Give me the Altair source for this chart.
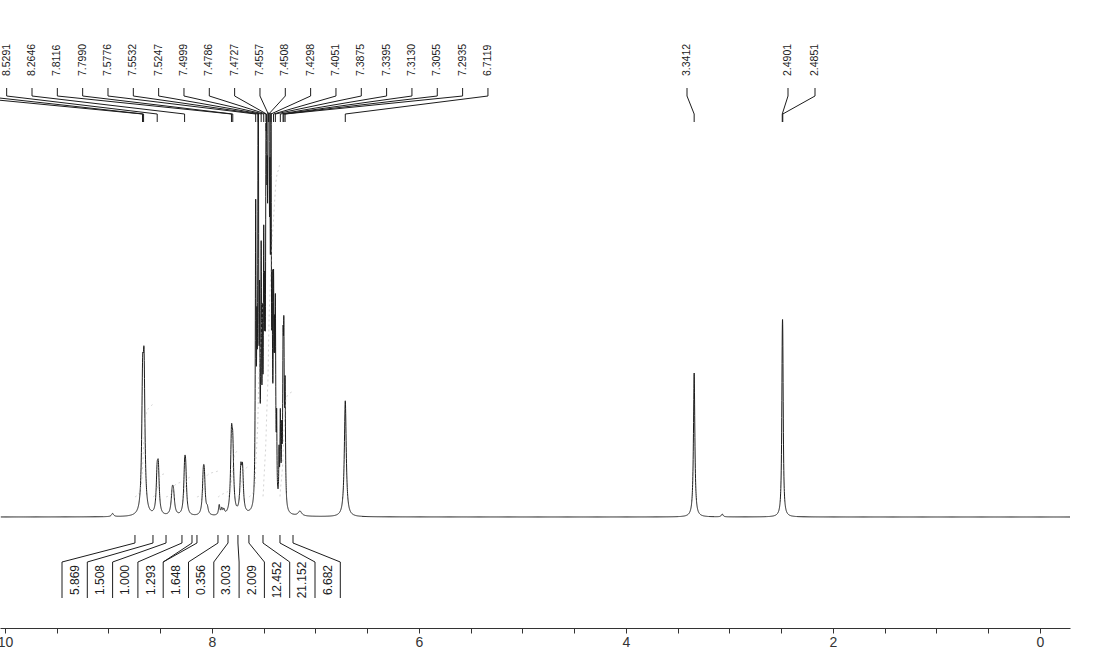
import altair as alt
import numpy as np
import pandas as pd

# ---------------- spectrum: peak table (ppm, height, half-width) ----------------
peak_ppm = [8.960, 8.670, 8.656, 8.530, 8.518, 8.384, 8.372, 8.264, 8.254,
            8.084, 8.074, 8.045, 7.930, 7.905, 7.885, 7.8116, 7.7990, 7.7211,
            7.7050,
            7.5776, 7.5660, 7.5532, 7.5400, 7.5247, 7.5120, 7.4999, 7.4900,
            7.4786, 7.4727, 7.4660, 7.4557, 7.4508, 7.4400, 7.4298, 7.4180,
            7.4051, 7.3960, 7.3875, 7.3750, 7.3520, 7.3395, 7.3260, 7.3130,
            7.3055, 7.2935,
            7.150, 6.7119, 3.3412, 3.070, 2.4901, 2.4851]
peak_height = [0.8, 29, 32, 9, 10, 5, 4.5, 10, 9,
               8, 8, 1.5, 2.5, 1.5, 1.2, 17, 14, 10,
               10,
               72, 30, 120, 40, 58, 35, 58, 35,
               62, 55, 40, 110, 110, 50, 88, 40,
               48, 28, 45, 18, 12, 22, 15, 34,
               36, 28,
               1.2, 29, 36, 0.7, 28, 30]
peak_width = [0.012, 0.010, 0.010, 0.010, 0.010, 0.012, 0.012, 0.010, 0.010,
              0.010, 0.010, 0.010, 0.008, 0.008, 0.008, 0.010, 0.010, 0.010,
              0.010,
              0.0042, 0.0032, 0.0042, 0.0032, 0.0042, 0.0032, 0.0042, 0.0032,
              0.0042, 0.0042, 0.0032, 0.0042, 0.0042, 0.0032, 0.0042, 0.0032,
              0.0042, 0.0032, 0.0042, 0.0032, 0.0032, 0.0042, 0.0032, 0.0045,
              0.0045, 0.0045,
              0.020, 0.011, 0.008, 0.010, 0.006, 0.006]

# ---------------- peak-pick labels ----------------
pick_main = [8.6712, 8.6608, 8.5291, 8.2646, 7.8116, 7.7990, 7.5776, 7.5532,
             7.5247, 7.4999, 7.4786, 7.4727, 7.4557, 7.4508, 7.4298, 7.4051,
             7.3875, 7.3395, 7.3130, 7.3055, 7.2935, 6.7119]
pick_right = [3.3412, 2.4901, 2.4851]

# ---------------- integrals ----------------
integ_values = [5.869, 1.508, 1.000, 1.293, 1.648, 0.356, 3.003, 2.009, 12.452, 21.152, 6.682]
integ_from = [8.744, 8.570, 8.444, 8.290, 8.145, 7.942, 7.845, 7.749, 7.643, 7.507, 7.343]
integ_to = [8.570, 8.444, 8.290, 8.193, 7.942, 7.845, 7.749, 7.643, 7.507, 7.343, 7.217]

# axis ticks
tick_values = [v / 2 for v in range(0, 21)]

# ---------------- layout ----------------
W, H = 1070, 628
PPM_LEFT, PPM_RIGHT = 10.048, -0.29
Y_MIN, Y_MAX = -27.75, 129.25
CLIP = 101
FONT = "Liberation Sans, Arial, sans-serif"
INK = "#1c1c1c"


def px_to_ppm(px):
    return PPM_LEFT - px * (PPM_LEFT - PPM_RIGHT) / W


def py_to_units(py):
    return Y_MAX - py * (Y_MAX - Y_MIN) / H


# spectrum sampled finely where the lines are
grid = np.unique(np.round(np.concatenate([
    np.arange(PPM_RIGHT, PPM_LEFT, 0.01),
    np.arange(6.55, 9.05, 0.001),
    np.arange(7.20, 7.65, 0.0005),
    np.arange(3.20, 3.50, 0.001),
    np.arange(2.35, 2.65, 0.001),
    np.arange(3.00, 3.15, 0.002),
]), 4))
signal = np.zeros_like(grid)
for p, h, w in zip(peak_ppm, peak_height, peak_width):
    signal += h * w ** 2 / ((grid - p) ** 2 + w ** 2)
spec = pd.DataFrame({"ppm": grid, "v": np.minimum(signal, CLIP)})

# integral traces (running sums over each region)
INT_BASE, INT_SCALE = 5.0, 3.95
rows = []
for k, (a, b, val) in enumerate(zip(integ_from, integ_to, integ_values)):
    m = (grid <= a) & (grid >= b)
    g = grid[m][::-1]
    s = signal[m][::-1]
    c = np.cumsum(s)
    c = c / c[-1]
    step = max(1, len(g) // 60)
    for gi, ci in zip(g[::step], c[::step]):
        rows.append({"ppm": gi, "v": INT_BASE + ci * val * INT_SCALE, "region": k})
    rows.append({"ppm": g[-1], "v": INT_BASE + val * INT_SCALE, "region": k})
integ = pd.DataFrame(rows)

# peak-pick labels and their leader lines
TXT_Y, T1, T2, S2, E2 = 76, 88, 96, 114, 122
slots = [32 + 25.33 * (i - 3) for i in range(len(pick_main))] + [687, 788, 815]
picks = pick_main + pick_right
pick_txt = pd.DataFrame({
    "ppm": [px_to_ppm(s) for s in slots],
    "v": py_to_units(TXT_Y),
    "label": [f"{p:.4f}" for p in picks],
})
segs = []
for s, p in zip(slots, picks):
    xs = px_to_ppm(s)
    segs.append((xs, py_to_units(T1), xs, py_to_units(T2)))
    segs.append((xs, py_to_units(T2), p, py_to_units(S2)))
    segs.append((p, py_to_units(S2), p, py_to_units(E2)))

# integral labels and brackets
DIV0, DIVSTEP = 62, 25.3
B_MID, B_TOP, B_BOT, B_SL, B_TK = 580, 562, 598, 543, 535
div_px = [DIV0 + DIVSTEP * k for k in range(len(integ_values) + 1)]
int_txt = pd.DataFrame({
    "ppm": [px_to_ppm(DIV0 + DIVSTEP * (k + 0.5)) for k in range(len(integ_values))],
    "v": py_to_units(B_MID),
    "label": [f"{v:.3f}" for v in integ_values],
})
for k, d in enumerate(div_px):
    xd = px_to_ppm(d)
    segs.append((xd, py_to_units(B_TOP), xd, py_to_units(B_BOT)))
    targets = []
    if k > 0:
        targets.append(integ_to[k - 1])
    if k < len(integ_values):
        targets.append(integ_from[k])
    for t in sorted(set(targets)):
        segs.append((xd, py_to_units(B_TOP), t, py_to_units(B_SL)))
        segs.append((t, py_to_units(B_SL), t, py_to_units(B_TK)))
seg_df = pd.DataFrame(segs, columns=["ppm", "v", "ppm2", "v2"])

# ---------------- encodings ----------------
xscale = alt.Scale(domain=[PPM_RIGHT, PPM_LEFT], reverse=True, nice=False, zero=False)
yscale = alt.Scale(domain=[Y_MIN, Y_MAX], nice=False, zero=False)
xaxis = alt.Axis(values=tick_values, labelExpr="datum.value % 2 == 0 ? datum.value : ''",
                 title=None, grid=False, tickSize=5, labelFlush=False,
                 labelFontSize=14, labelFont=FONT, labelColor="#333", labelPadding=2,
                 tickColor="#333", domainColor="#333", labelOverlap=False)


def X(f="ppm"):
    return alt.X(f"{f}:Q", scale=xscale, axis=xaxis)


def Y(f="v"):
    return alt.Y(f"{f}:Q", scale=yscale, axis=None)


spectrum = alt.Chart(spec).mark_line(color=INK, strokeWidth=1).encode(x=X(), y=Y())

integral = alt.Chart(integ).mark_line(color="#b0b0b0", strokeWidth=0.8, strokeDash=[2, 3],
                                      opacity=0.7).encode(x=X(), y=Y(), detail="region:N")

leaders = alt.Chart(seg_df).mark_rule(color=INK, strokeWidth=1).encode(
    x=X(), y=Y(), x2="ppm2:Q", y2="v2:Q")

pick_labels = alt.Chart(pick_txt).mark_text(angle=270, align="left", baseline="middle",
                                            font=FONT, fontSize=10.5, color=INK).encode(
    x=X(), y=Y(), text="label:N")

integral_labels = alt.Chart(int_txt).mark_text(angle=270, align="center", baseline="middle",
                                               font=FONT, fontSize=12, color=INK).encode(
    x=X(), y=Y(), text="label:N")

chart = alt.layer(spectrum, integral, leaders, pick_labels, integral_labels).properties(
    width=W, height=H, autosize="none",
    padding={"left": 0, "top": 0, "right": 1093 - W, "bottom": 648 - H},
    background="white",
).configure_view(stroke=None)

chart.save("out.html", embed_options={"renderer": "svg", "actions": False})
